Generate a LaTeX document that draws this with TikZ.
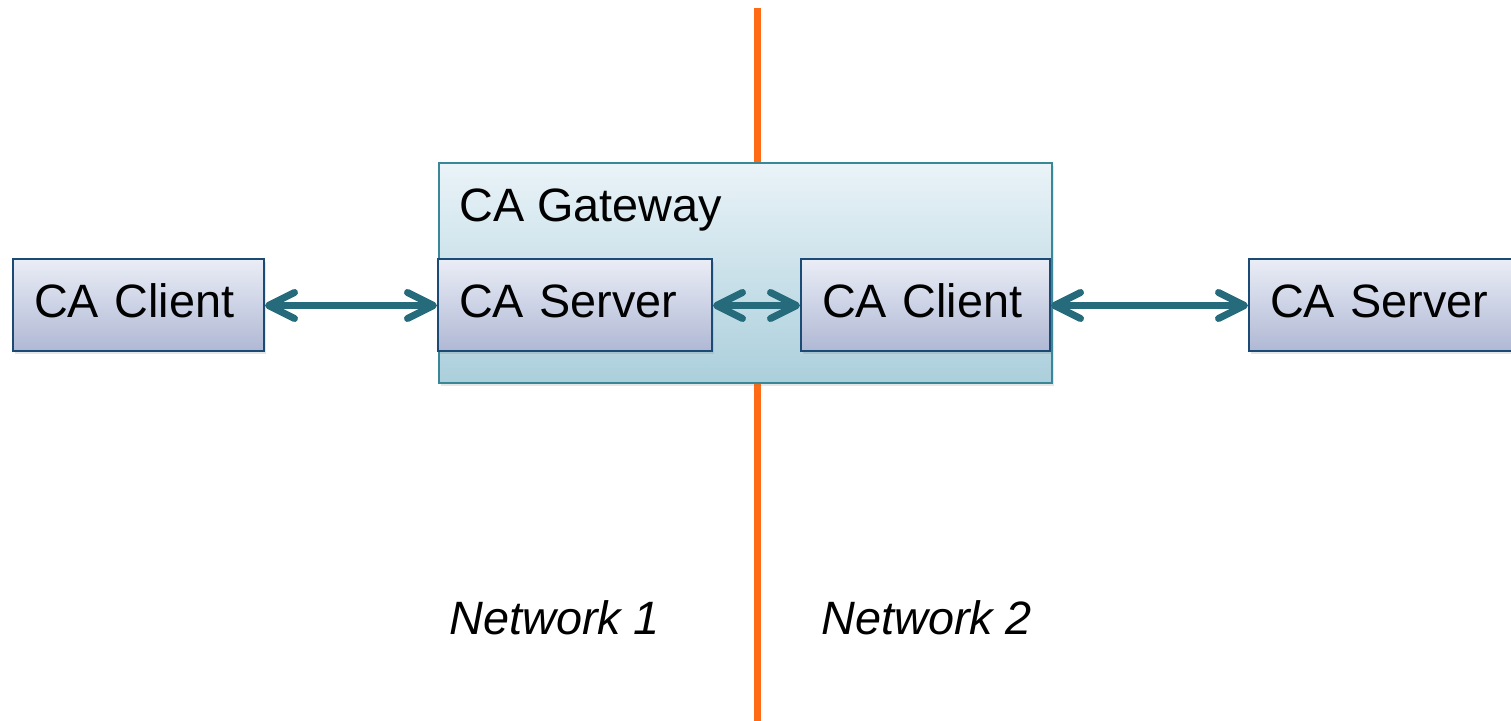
\documentclass[tikz,border=0pt]{standalone}
\usepackage{fontspec}
\setmainfont{Liberation Sans}
\usepackage{tikz}
\usetikzlibrary{arrows.meta,shadows}

\definecolor{boxLine}{HTML}{1B4A75}
\definecolor{boxTop}{HTML}{EAEDF6}
\definecolor{boxBottom}{HTML}{AFB8D4}
\definecolor{gateLine}{HTML}{3A8797}
\definecolor{gateTop}{HTML}{EAF3F8}
\definecolor{gateBottom}{HTML}{ABCFDC}
\definecolor{linkTeal}{HTML}{256B7B}
\definecolor{netOrange}{HTML}{FF6A14}

\tikzset{
	labelfont/.style={font=\fontsize{23.4}{28}\selectfont},
	netfont/.style={font=\fontsize{23.4}{28}\selectfont\itshape},
	box/.style={draw=boxLine, line width=1pt, top color=boxTop, bottom color=boxBottom,
		minimum height=46pt, inner xsep=10.5pt, inner ysep=0pt, align=left, labelfont,
		text height=17pt, text depth=5pt,
		drop shadow={shadow xshift=1pt, shadow yshift=-1.5pt, opacity=0.2}},
	gateway/.style={draw=gateLine, line width=0.9pt, top color=gateTop, bottom color=gateBottom,
		minimum width=306.5pt, minimum height=110pt, inner sep=0pt,
		drop shadow={shadow xshift=1pt, shadow yshift=-1.5pt, opacity=0.2}},
	link/.style={line width=3.5pt, draw=linkTeal,
		{Straight Barb[length=13pt,width=13pt,round]}-{Straight Barb[length=13pt,width=13pt,round]}}
}

\begin{document}
\begin{tikzpicture}[x=0.5pt,y=-0.5pt]
	\newcommand{\netX}{757}
	\newcommand{\rowY}{305.5}

	\useasboundingbox (0,0) rectangle (1511,721);

	% network border
	\coordinate (border_top) at (\netX,8);
	\coordinate (border_bottom) at (\netX,721);
	\draw[line width=3.5pt, netOrange] (border_top) -- (border_bottom);

	% gateway
	\node[gateway] (gateway) at (745.5,273) {};
	\node[labelfont, anchor=base west, inner sep=0pt] (gateway_title) at (459,222) {CA Gateway};

	% clients and servers
	\node[box, minimum width=125.5pt, text width=104.5pt] (client_left) at (138.5,\rowY) {CA Client};
	\node[box, minimum width=137pt, text width=116pt] (server_gw) at (575,\rowY) {CA Server};
	\node[box, minimum width=124.5pt, text width=103.5pt] (client_gw) at (925.5,\rowY) {CA Client};
	\node[box, minimum width=137pt, text width=116pt] (server_right) at (1386,\rowY) {CA Server};

	% links
	\draw[link] (client_left) -- (server_gw);
	\draw[link] (server_gw) -- (client_gw);
	\draw[link] (client_gw) -- (server_right);

	% network labels
	\node[netfont, anchor=base west, inner sep=0pt] (net_one) at (449,634) {Network 1};
	\node[netfont, anchor=base west, inner sep=0pt] (net_two) at (821,634) {Network 2};
\end{tikzpicture}
\end{document}
